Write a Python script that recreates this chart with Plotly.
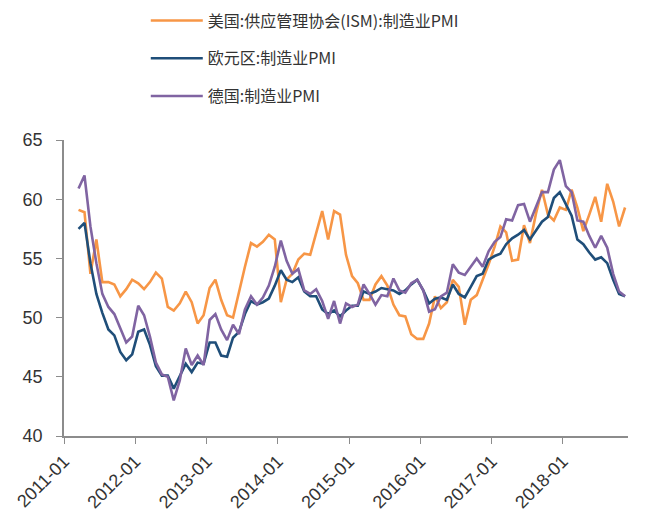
import pandas as pd
import plotly.graph_objects as go

# Monthly manufacturing PMI readings, 2011-03 through 2018-11
months = pd.date_range("2011-03-01", "2018-11-01", freq="MS")

us_ism = [
    59.1, 58.9, 53.7, 56.6, 53.0, 53.0, 52.8, 51.8, 52.4, 53.2,
    52.9, 52.4, 53.0, 53.8, 53.3, 50.9, 50.6, 51.2, 52.2, 51.3, 49.5, 50.2,
    52.5, 53.2, 51.5, 50.2, 50.0, 52.2, 54.3, 56.3, 56.0, 56.4, 57.0, 56.6,
    51.3, 53.2, 53.7, 54.9, 55.4, 55.3, 57.1, 59.0, 56.6, 59.0, 58.7, 55.3,
    53.5, 52.9, 51.5, 51.5, 52.8, 53.5, 52.7, 51.1, 50.2, 50.1, 48.6, 48.2,
    48.2, 49.5, 51.8, 50.8, 51.3, 53.2, 52.6, 49.4, 51.5, 51.9, 53.2, 54.5,
    56.0, 57.7, 57.2, 54.8, 54.9, 57.8, 56.3, 58.8, 60.8, 58.7, 58.2, 59.3,
    59.1, 60.8, 59.3, 57.3, 58.7, 60.2, 58.1, 61.3, 59.8, 57.7, 59.3,
]

eurozone = [
    57.5, 58.0, 54.6, 52.0, 50.4, 49.0, 48.5, 47.1, 46.4, 46.9,
    48.8, 49.0, 47.7, 45.9, 45.1, 45.1, 44.0, 45.1, 46.1, 45.4, 46.2, 46.1,
    47.9, 47.9, 46.8, 46.7, 48.3, 48.8, 50.3, 51.4, 51.1, 51.3, 51.6, 52.7,
    54.0, 53.2, 53.0, 53.4, 52.2, 51.8, 51.8, 50.7, 50.3, 50.6, 50.1, 50.6,
    51.0, 51.0, 52.2, 52.0, 52.2, 52.5, 52.4, 52.3, 52.0, 52.3, 52.8, 53.2,
    52.3, 51.2, 51.6, 51.7, 51.5, 52.8, 52.0, 51.7, 52.6, 53.5, 53.7, 54.9,
    55.2, 55.4, 56.2, 56.7, 57.0, 57.4, 56.6, 57.4, 58.1, 58.5, 60.1, 60.6,
    59.6, 58.6, 56.6, 56.2, 55.5, 54.9, 55.1, 54.6, 53.2, 52.0, 51.8,
]

germany = [
    60.9, 62.0, 57.7, 54.6, 52.0, 50.9, 50.3, 49.1, 47.9, 48.4,
    51.0, 50.2, 48.4, 46.2, 45.2, 45.0, 43.0, 44.7, 47.4, 46.0, 46.8, 46.0,
    49.8, 50.3, 49.0, 48.1, 49.4, 48.6, 50.7, 51.8, 51.1, 51.7, 52.7, 54.3,
    56.5, 54.8, 53.7, 54.1, 52.3, 52.0, 52.4, 51.4, 49.9, 51.4, 49.5, 51.2,
    50.9, 51.1, 52.8, 52.0, 51.1, 51.9, 51.8, 53.3, 52.3, 52.1, 52.9, 53.2,
    52.3, 50.5, 50.7, 51.8, 52.1, 54.5, 53.8, 53.6, 54.3, 55.0, 54.3, 55.6,
    56.4, 56.8, 58.3, 58.2, 59.5, 59.6, 58.1, 59.3, 60.6, 60.6, 62.5, 63.3,
    61.1, 60.6, 58.2, 58.1, 56.9, 55.9, 56.9, 55.9, 53.7, 52.2, 51.8,
]

series_names = ["美国:供应管理协会(ISM):制造业PMI", "欧元区:制造业PMI", "德国:制造业PMI"]
series_colors = ["#F79646", "#1F4E79", "#8064A2"]
y_ticks = [40, 45, 50, 55, 60, 65]

fig = go.Figure()
for name, values, color in zip(series_names, [us_ism, eurozone, germany], series_colors):
    fig.add_trace(go.Scatter(
        x=months, y=values, name=name, mode="lines",
        xperiod="M1", xperiodalignment="middle",
        line=dict(color=color, width=2.6),
        legendgroup=name,
    ))

tick_font = dict(family="Liberation Sans, Arial, sans-serif", size=18, color="#333333")
axis_color = "#8c8c8c"

fig.update_layout(
    width=670, height=517,
    margin=dict(l=64, r=42, t=140, b=81, autoexpand=False),
    paper_bgcolor="white", plot_bgcolor="white",
    showlegend=True,
    legend=dict(
        x=0.145, y=1.461, xanchor="left", yanchor="top",
        font=dict(family="Noto Sans CJK SC, sans-serif", size=16, color="#333333"),
        tracegroupgap=14, itemwidth=52, bgcolor="rgba(0,0,0,0)",
    ),
    xaxis=dict(
        type="date", range=["2011-01-01", "2018-12-01"],
        tick0="2011-01-01", dtick="M12", tickformat="%Y-%m",
        tickangle=-45, ticks="outside", ticklen=6, tickcolor=axis_color,
        showline=True, linecolor=axis_color, linewidth=1.5, automargin=False,
        showgrid=False, zeroline=False, tickfont=tick_font,
    ),
    yaxis=dict(
        range=[40, 65], tickvals=y_ticks, ticks="outside", ticklen=6,
        tickcolor=axis_color, showline=True, linecolor=axis_color, linewidth=1.5,
        showgrid=False, zeroline=False, tickfont=tick_font, ticklabelstandoff=10,
        automargin=False,
    ),
    yaxis2=dict(
        range=[40, 65], tickvals=y_ticks, overlaying="y", side="right", anchor="x",
        ticks="outside", ticklen=6, tickcolor=axis_color,
        showline=True, linecolor=axis_color, linewidth=1.5,
        showgrid=False, zeroline=False, tickfont=tick_font, ticklabelstandoff=10,
        automargin=False,
    ),
)

fig.write_html("out.html")
